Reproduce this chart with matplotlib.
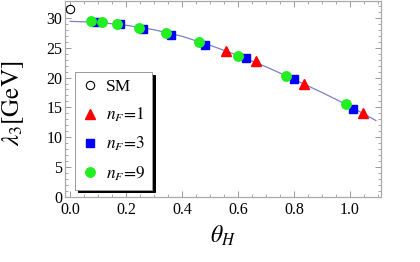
import matplotlib
matplotlib.use("Agg")
import matplotlib.pyplot as plt
from matplotlib.ticker import MultipleLocator

plt.rcParams['font.family'] = ['Liberation Serif', 'DejaVu Serif']
plt.rcParams['mathtext.fontset'] = 'stix'

# curve lambda_3(theta_H)
curve_x = [0.0, 0.1, 0.2, 0.3, 0.4, 0.5, 0.6, 0.7, 0.8, 0.9, 1.0, 1.093]
curve_y = [29.4, 29.25, 28.75, 28.0, 26.9, 25.4, 23.7, 21.8, 19.7, 17.5, 15.2, 12.8]

# SM point
sm_x = [0.0]
sm_y = [31.4]

# n_F = 1
nf1_x = [0.557, 0.664, 0.836, 1.047]
nf1_y = [24.5, 22.7, 19.0, 14.0]

# n_F = 3
nf3_x = [0.093, 0.18, 0.26, 0.36, 0.482, 0.629, 0.80, 1.01]
nf3_y = [29.3, 28.9, 28.2, 27.2, 25.5, 23.2, 19.7, 14.8]

# n_F = 9
nf9_x = [0.075, 0.115, 0.168, 0.247, 0.343, 0.46, 0.60, 0.77, 0.986]
nf9_y = [29.4, 29.3, 29.0, 28.3, 27.5, 25.9, 23.6, 20.3, 15.5]

fig = plt.figure(figsize=(4.2, 2.62), dpi=100)
ax = fig.add_axes([0.155, 0.248, 0.752, 0.748])

ax.plot(curve_x, curve_y, color='#7f7fc8', lw=0.9, zorder=1)
ax.plot(sm_x, sm_y, 'o', mfc='white', mec='black', mew=0.8, ms=6, ls='none',
        label='SM', clip_on=False, zorder=3)
ax.plot(nf1_x, nf1_y, '^', color='#ff0000', ms=7, ls='none', label=r'$n_F\!=\!1$', zorder=2)
ax.plot(nf3_x, nf3_y, 's', color='#0000ff', ms=5.5, ls='none', label=r'$n_F\!=\!3$', zorder=3)
ax.plot(nf9_x, nf9_y, 'o', color='#22ee22', ms=6.8, ls='none', label=r'$n_F\!=\!9$', zorder=4)

ax.set_xlim(-0.018, 1.111)
ax.set_ylim(0, 32.8)
ax.xaxis.set_major_locator(MultipleLocator(0.2))
ax.xaxis.set_minor_locator(MultipleLocator(0.05))
ax.yaxis.set_major_locator(MultipleLocator(5))
ax.yaxis.set_minor_locator(MultipleLocator(1))
ax.xaxis.set_major_formatter(matplotlib.ticker.FormatStrFormatter('%.1f'))

ax.tick_params(which='both', direction='in', top=True, right=True, color='#999999',
               labelsize=11.5)
ax.tick_params(axis='x', pad=3.5)
ax.tick_params(axis='y', pad=2)
ax.tick_params(which='major', length=4, width=0.7)
ax.tick_params(which='minor', length=2, width=0.6)
for s in ax.spines.values():
    s.set_color('#aaaaaa')
    s.set_linewidth(0.9)

ax.set_xlabel(r'$\theta_H$', fontsize=17, labelpad=4)
ax.set_ylabel(r'$\lambda_3\mathrm{[GeV]}$', fontsize=18)
ax.yaxis.set_label_coords(-0.125, 0.48)

leg = ax.legend(loc='upper left', bbox_to_anchor=(0.032, 0.638), borderaxespad=0,
                fontsize=12.5, frameon=True, fancybox=False, framealpha=1,
                shadow={'color': 'black', 'alpha': 1}, handlelength=0.9,
                handletextpad=0.45, labelspacing=0.62, borderpad=0.4)
leg.get_frame().set_edgecolor('#999999')
leg.get_frame().set_linewidth(0.7)

fig.savefig('out.png', dpi=100)
